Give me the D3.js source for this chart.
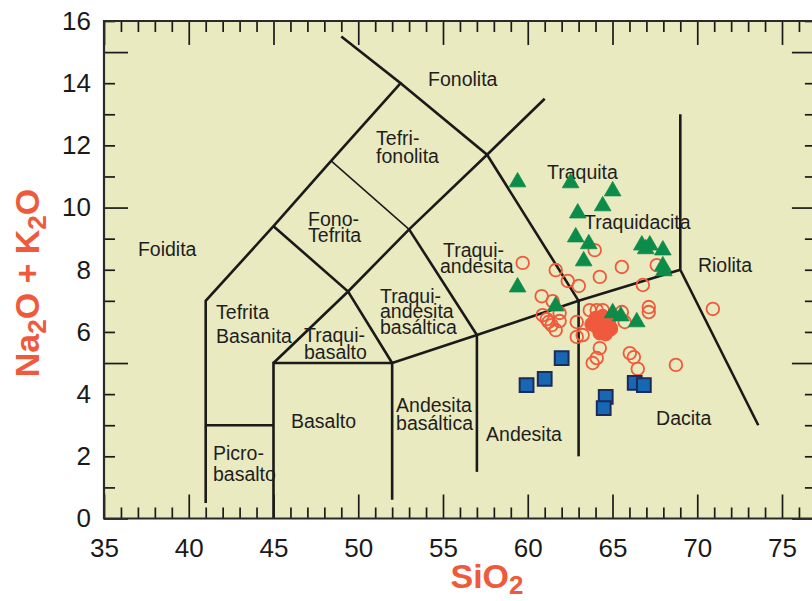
<!DOCTYPE html>
<html><head><meta charset="utf-8">
<script src="https://cdn.jsdelivr.net/npm/d3@7"></script>
<style>
body{margin:0;background:#fff}
svg{display:block}
text{font-family:"Liberation Sans",Arial,Helvetica,sans-serif}
</style>
</head><body>
<svg id="c" width="812" height="601"></svg>
<script>
// ---- data ----
const xTickLabels = [35,40,45,50,55,60,65,70,75];
const yTickLabels = [0,2,4,6,8,10,12,14,16];

// red open circles [SiO2, Na2O+K2O]
const openCircles = [
 [63.95,8.63],[59.70,8.22],[61.65,7.99],[62.36,7.64],[63.01,7.48],[64.25,7.77],
 [65.55,8.09],[67.61,8.15],[66.79,7.51],[60.82,7.15],[61.47,6.99],[70.92,6.74],
 [67.14,6.80],[67.14,6.64],[60.88,6.54],[61.12,6.41],[61.41,6.22],[61.65,6.06],
 [61.88,6.35],[62.89,6.32],[62.89,5.84],[63.66,6.70],[64.07,6.70],[64.42,6.70],
 [65.55,6.64],[64.25,5.48],[64.07,5.16],[63.83,5.00],[66.02,5.32],[66.26,5.19],
 [66.49,4.81],[68.74,4.94],[63.24,5.90],[65.72,6.32],[61.23,6.32],[61.88,6.61],
 [64.90,6.13]
];
// red filled circles
const filledCircles = [
 [64.01,6.45],[64.42,6.51],[64.78,6.35],[64.07,6.16],[64.48,6.19],[64.90,6.09],
 [64.25,5.96],[63.77,6.25],[64.60,5.93]
];
// green triangles
const triangles = [
 [59.40,10.82],[62.53,10.79],[65.01,10.53],[64.42,10.05],[62.95,9.82],[62.83,9.05],
 [63.60,8.83],[63.30,8.28],[59.40,7.44],[61.65,6.83],[65.01,6.61],[65.49,6.51],
 [66.43,6.32],[66.73,8.79],[67.20,8.79],[66.96,8.67],[67.97,8.63],[67.97,8.12],
 [68.03,7.96]
];
// blue squares
const squares = [
 [62.0,5.16],[61.0,4.49],[59.93,4.29],[64.6,3.91],[64.48,3.55],[66.31,4.36],[66.85,4.29]
];

// TAS field boundaries
const boundaries = [
 [[41,0.5],[41,7],[45,9.4],[48.4,11.5],[52.5,14],[49.0,15.5]],
 [[41,3],[45,3]],
 [[45,0],[45,5],[52,5],[52,0.6]],
 [[45,5],[49.4,7.3],[53,9.3],[57.6,11.7],[61,13.5]],
 [[45,9.4],[49.4,7.3],[52,5]],
 [[53,9.3],[57,5.9]],
 [[52.5,14],[57.6,11.7],[63,7]],
 [[52,5],[57,5.9],[63,7],[69,8]],
 [[57,5.9],[57,1.5]],
 [[63,7],[63,2]],
 [[69,8],[69,13]],
 [[69,8],[73.6,3.0]]
];
const thinBoundary = [[48.4,11.5],[53,9.3]];

// field names [text, SiO2, Na2O+K2O] (left edge, baseline)
const fieldLabels = [
 ["Fonolita",54.12,13.91],
 ["Tefri-",51.05,12.01],["fonolita",51.05,11.43],
 ["Foidita",37.0,8.44],
 ["Fono-",47.04,9.41],["Tefrita",47.04,8.89],
 ["Traquita",61.14,10.92],
 ["Traquidacita",63.32,9.31],
 ["Traqui-",55.0,8.41],["andesita",54.82,7.90],
 ["Riolita",70.04,7.93],
 ["Tefrita",41.61,6.42],["Basanita",41.61,5.64],
 ["Traqui-",51.28,6.93],["andesita",51.28,6.45],["basáltica",51.28,5.93],
 ["Traqui-",46.8,5.68],["basalto",46.8,5.13],
 ["Basalto",46.03,2.91],
 ["Andesita",52.23,3.43],["basáltica",52.23,2.85],
 ["Andesita",57.54,2.49],
 ["Dacita",67.57,3.01],
 ["Picro-",41.43,1.88],["basalto",41.43,1.21]
];

// ---- drawing ----
const svg = d3.select("#c");
const L=104, T=21, B=518.5;
const x = d3.scaleLinear().domain([35,75]).range([L,782]);
const y = d3.scaleLinear().domain([0,16]).range([B,T]);
const R = x(77);

const red="#ef5a3c", green="#0c8c4a", blue="#1767b3", navy="#1d2a5c", ink="#1a1a1a";

svg.append("rect").attr("x",L).attr("y",T).attr("width",R-L).attr("height",B-T)
  .attr("fill","#eaeac0");

// boundaries
const line = d3.line().x(d=>x(d[0])).y(d=>y(d[1]));
svg.append("g").selectAll("path").data(boundaries).join("path")
  .attr("d",line).attr("fill","none").attr("stroke",ink)
  .attr("stroke-width",2.6).attr("stroke-linejoin","miter");
svg.append("path").attr("d",line(thinBoundary)).attr("fill","none")
  .attr("stroke",ink).attr("stroke-width",1.5);

// field labels
svg.append("g").selectAll("text").data(fieldLabels).join("text")
  .attr("x",d=>x(d[1])).attr("y",d=>y(d[2])).text(d=>d[0])
  .attr("font-size",19.5).attr("fill","#1e1e1e");

// axes
const minorX = d3.range(35,78).filter(v=>v%5!==0);
const majorX = d3.range(35,78,5);
const minorY = d3.range(0,17).filter(v=>v%5!==0);
const majorY = [0,5,10,15];
function styleAxis(g){
  g.select(".domain").remove();
  g.selectAll(".tick line").attr("stroke",ink).attr("stroke-width",1.7);
}
svg.append("g").attr("transform",`translate(0,${B})`)
  .call(d3.axisBottom(x).tickValues(minorX).tickSize(-11).tickFormat("")).call(styleAxis);
svg.append("g").attr("transform",`translate(0,${B})`)
  .call(d3.axisBottom(x).tickValues(majorX).tickSize(-24).tickFormat("")).call(styleAxis);
const xl = svg.append("g").attr("transform",`translate(0,${B})`)
  .call(d3.axisBottom(x).tickValues(xTickLabels).tickSize(0).tickPadding(20)).call(styleAxis);
xl.selectAll("text").attr("font-size",26).attr("fill",ink).attr("font-family","Liberation Sans, Arial, sans-serif");

svg.append("g").attr("transform",`translate(0,${T})`)
  .call(d3.axisTop(x).tickValues(minorX).tickSize(-11).tickFormat("")).call(styleAxis);
svg.append("g").attr("transform",`translate(0,${T})`)
  .call(d3.axisTop(x).tickValues(majorX).tickSize(-24).tickFormat("")).call(styleAxis);

svg.append("g").attr("transform",`translate(${L},0)`)
  .call(d3.axisLeft(y).tickValues(minorY).tickSize(-11).tickFormat("")).call(styleAxis);
svg.append("g").attr("transform",`translate(${L},0)`)
  .call(d3.axisLeft(y).tickValues(majorY).tickSize(-24).tickFormat("")).call(styleAxis);
const yl = svg.append("g").attr("transform",`translate(${L},0)`)
  .call(d3.axisLeft(y).tickValues(yTickLabels).tickSize(0).tickPadding(13)).call(styleAxis);
yl.selectAll("text").attr("font-size",26).attr("fill",ink).attr("font-family","Liberation Sans, Arial, sans-serif");

svg.append("g").attr("transform",`translate(${R},0)`)
  .call(d3.axisRight(y).tickValues(minorY).tickSize(-11).tickFormat("")).call(styleAxis);
svg.append("g").attr("transform",`translate(${R},0)`)
  .call(d3.axisRight(y).tickValues(majorY).tickSize(-24).tickFormat("")).call(styleAxis);

// frame
svg.append("path").attr("d",`M${R},${T}H${L}V${B}H${R}`).attr("fill","none")
  .attr("stroke","#2a2a2a").attr("stroke-width",2.2);

// points
svg.append("g").selectAll("circle").data(openCircles).join("circle")
  .attr("cx",d=>x(d[0])).attr("cy",d=>y(d[1])).attr("r",6.3)
  .attr("fill","none").attr("stroke",red).attr("stroke-width",1.8);
svg.append("g").selectAll("circle").data(filledCircles).join("circle")
  .attr("cx",d=>x(d[0])).attr("cy",d=>y(d[1])).attr("r",6.8)
  .attr("fill",red).attr("stroke",red).attr("stroke-width",1);
const tri = d3.symbol().type(d3.symbolTriangle).size(120);
svg.append("g").selectAll("path").data(triangles).join("path")
  .attr("transform",d=>`translate(${x(d[0])},${y(d[1])})`).attr("d",tri)
  .attr("fill",green).attr("stroke",green).attr("stroke-width",0.8);
const sq = d3.symbol().type(d3.symbolSquare).size(190);
svg.append("g").selectAll("path").data(squares).join("path")
  .attr("transform",d=>`translate(${x(d[0])},${y(d[1])})`).attr("d",sq)
  .attr("fill",blue).attr("stroke",navy).attr("stroke-width",2);

// axis titles
const xt = svg.append("text").attr("x",487).attr("y",588).attr("text-anchor","middle")
  .attr("font-size",34).attr("font-weight","bold").attr("fill",red);
xt.append("tspan").text("SiO");
xt.append("tspan").text("2").attr("font-size",26).attr("dy",6);

const yt = svg.append("text").attr("transform","translate(39,283) rotate(-90)")
  .attr("text-anchor","middle").attr("font-size",34).attr("font-weight","bold").attr("fill",red);
yt.append("tspan").text("Na");
yt.append("tspan").text("2").attr("font-size",26).attr("dy",7);
yt.append("tspan").text("O + K").attr("dy",-7);
yt.append("tspan").text("2").attr("font-size",26).attr("dy",7);
yt.append("tspan").text("O").attr("dy",-7);
</script>
</body></html>
